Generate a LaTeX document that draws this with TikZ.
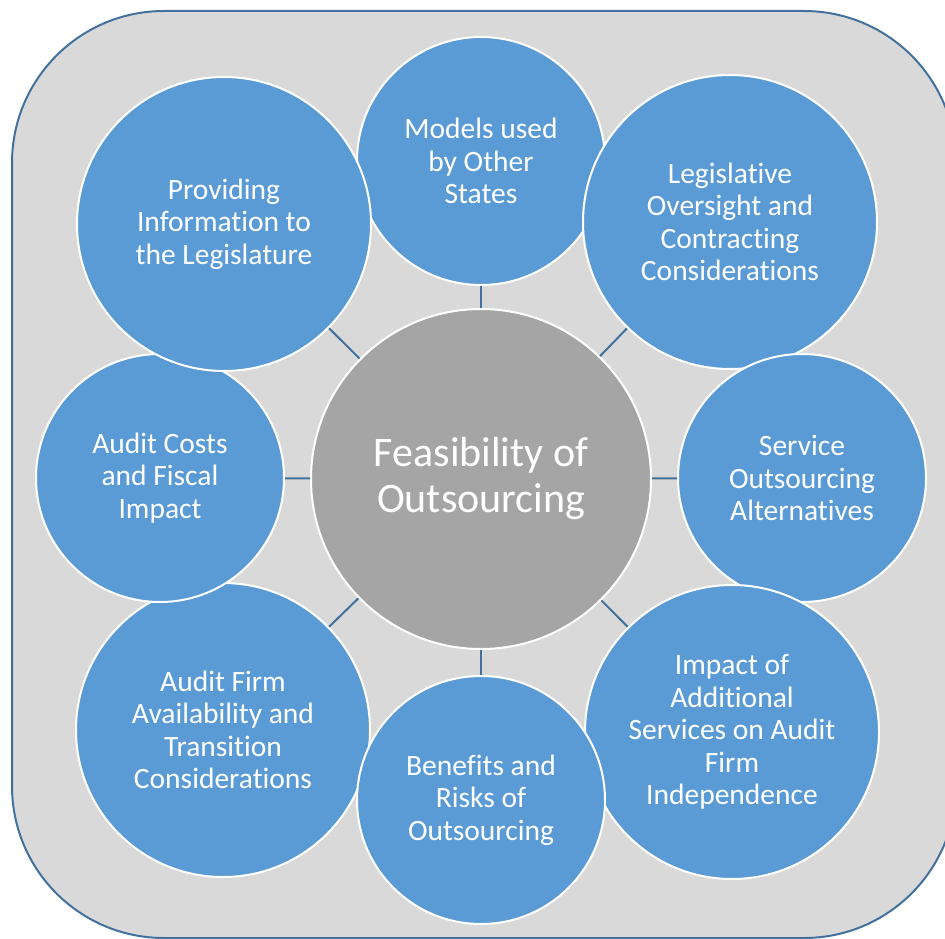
\documentclass[tikz,border=0pt]{standalone}
\usepackage{fontspec}
\setmainfont{Carlito}[Ligatures=NoCommon]
\usetikzlibrary{positioning}

\definecolor{panelgray}{HTML}{D9D9D9}
\definecolor{panelline}{HTML}{41719C}
\definecolor{bubbleblue}{HTML}{5B9BD5}
\definecolor{hubgray}{HTML}{A5A5A5}

\begin{document}
\begin{tikzpicture}[x=1pt, y=-1pt, line cap=round, line join=round,
    bubble/.style={circle, fill=bubbleblue, draw=white, line width=2pt,
      text=white, align=center, inner sep=0pt, minimum size=248pt,
      font=\fontsize{29.5}{32.5}\selectfont},
    bigbubble/.style={bubble, minimum size=294pt},
    hubbubble/.style={bubble, fill=hubgray, minimum size=340pt,
      font=\fontsize{42}{46}\selectfont},
    link/.style={draw=panelline, line width=2pt, line cap=butt}]

  \useasboundingbox (0,0) rectangle (945,939);

  %--------------------------
  % Panel behind everything
  %--------------------------
  \draw[fill=panelgray, draw=panelline, line width=2pt, rounded corners=152pt]
    (12,11) rectangle (956,938);

  %--------------------------
  % Hub
  %--------------------------
  \node[hubbubble] (hub) at (481,479) {Feasibility of\\Outsourcing};

  %--------------------------
  % Ring of topics
  %--------------------------
  \node[bubble] (models) at (481,161) {Models used\\by Other\\States};
  \node[bigbubble] (oversight) at (730,222)
    {Legislative\\Oversight and\\Contracting\\Considerations};
  \node[bubble] (services) at (802,478) {Service\\Outsourcing\\Alternatives};
  \node[bigbubble] (impact) at (732,732)
    {Impact of\\Additional\\Services on Audit\\Firm\\Independence};
  \node[bigbubble] (firms) at (223,730)
    {Audit Firm\\Availability and\\Transition\\Considerations};
  \node[bubble] (benefits) at (481,800) {Benefits and\\Risks of\\Outsourcing};
  \node[bubble] (costs) at (160,478) {Audit Costs\\and Fiscal\\Impact};
  \node[bigbubble] (info) at (224,224)
    {Providing\\Information to\\the Legislature};

  % spokes
  \foreach \t in {models, oversight, services, impact, benefits, firms, costs, info}
    \draw[link] (hub) -- (\t);

\end{tikzpicture}
\end{document}
